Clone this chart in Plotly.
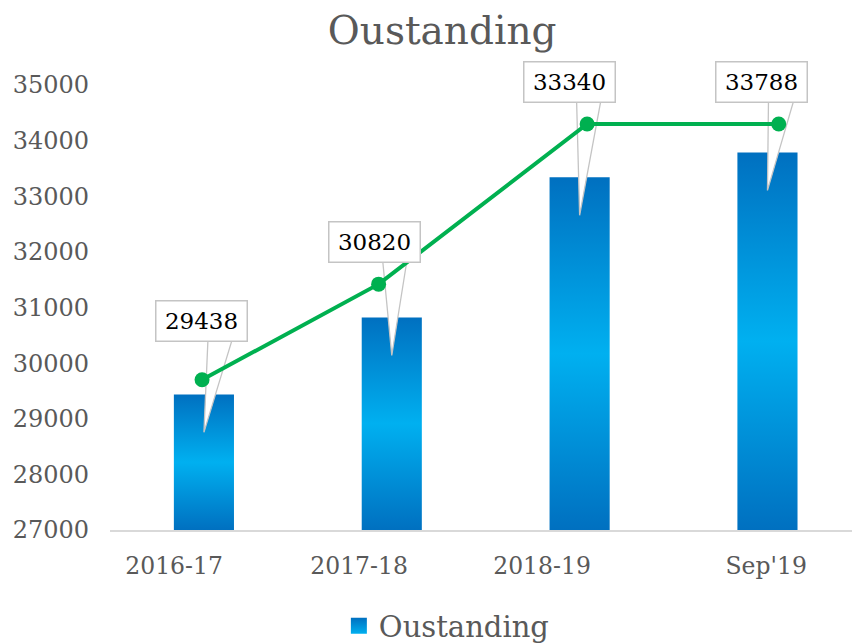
import plotly.graph_objects as go

# data
categories = ["2016-17", "2017-18", "2018-19", "Sep'19"]
outstanding = [29438, 30820, 33340, 33788]
trend_x = [-0.01, 0.93, 2.04, 3.06]
trend_y = [29700, 31420, 34300, 34300]

# axis / layout constants
Y_MIN, Y_MAX = 27000, 35000
X_MIN, X_MAX = -0.5, 3.45
M_L, M_R, M_T, M_B = 110, 0, 85, 114
W, H = 852, 644
PX_Y = (H - M_T - M_B) / (Y_MAX - Y_MIN)  # px per unit
PX_X = (W - M_L - M_R) / (X_MAX - X_MIN)  # px per category

# the category labels sit a little left of the bars in the original
tick_pos = [-0.159, 0.826, 1.80, 2.993]

BAR_HALF = 0.16
DARK, LIGHT = "#0070C0", "#00B0F0"
FONT = "DejaVu Serif"

# callout placement in pixels (relative to bar top / bar centre)
box_dx = [-2.5, -17, -10.5, -6]
box_up = [73.5, 75.5, 95, 70.5]
wedge_l = [4, -9, -3, 1]
wedge_r = [28, 15, 21, 26]
BOX_H = 41
TIP_DOWN = 38

fig = go.Figure()

# bars with vertical gradient
for i, v in enumerate(outstanding):
    fig.add_trace(go.Scatter(
        x=[i - BAR_HALF, i + BAR_HALF, i + BAR_HALF, i - BAR_HALF, i - BAR_HALF],
        y=[Y_MIN, Y_MIN, v, v, Y_MIN],
        mode="lines",
        line={"width": 0},
        fill="toself",
        fillgradient={"type": "vertical",
                      "colorscale": [[0, DARK], [0.5, LIGHT], [1, DARK]]},
        showlegend=False,
        hoverinfo="skip",
    ))

# callout wedges
for i, v in enumerate(outstanding):
    base_y = v + (box_up[i] - BOX_H / 2 + 1) / PX_Y
    tip_y = v - TIP_DOWN / PX_Y
    fig.add_trace(go.Scatter(
        x=[i + wedge_l[i] / PX_X, i + wedge_r[i] / PX_X, i, i + wedge_l[i] / PX_X],
        y=[base_y, base_y, tip_y, base_y],
        mode="lines",
        line={"width": 1.3, "color": "#C4C4C4"},
        fill="toself",
        fillcolor="white",
        showlegend=False,
        hoverinfo="skip",
    ))

# trend line
fig.add_trace(go.Scatter(
    x=trend_x,
    y=trend_y,
    mode="lines+markers",
    line={"color": "#00B050", "width": 4},
    marker={"size": 15, "color": "#00B050"},
    showlegend=False,
))

# legend entry
fig.add_trace(go.Scatter(
    x=[None], y=[None],
    mode="markers",
    name="Oustanding",
    marker={"symbol": "square", "size": 16, "color": DARK,
            "gradient": {"type": "vertical", "color": LIGHT}},
))

for i, v in enumerate(outstanding):
    fig.add_annotation(
        x=i, y=v, xref="x", yref="y",
        xshift=box_dx[i], yshift=box_up[i],
        text=f"{v}",
        showarrow=False,
        font={"family": FONT, "size": 23, "color": "black"},
        bgcolor="white",
        bordercolor="#C4C4C4",
        borderwidth=1.5,
        borderpad=1,
        width=88,
        height=37,
    )

fig.update_layout(
    width=W,
    height=H,
    margin={"l": M_L, "r": M_R, "t": M_T, "b": M_B, "autoexpand": False},
    paper_bgcolor="white",
    plot_bgcolor="white",
    font={"family": FONT, "color": "#595959"},
    title={"text": "Oustanding", "x": 0.519, "xanchor": "center",
           "y": 0.953, "yanchor": "middle",
           "font": {"family": FONT, "size": 39, "color": "#595959"}},
    xaxis={"range": [X_MIN, X_MAX], "tickvals": tick_pos,
           "ticktext": categories, "showgrid": False, "zeroline": False,
           "showline": True, "linecolor": "#D9D9D9", "linewidth": 1.5,
           "tickfont": {"size": 23.5, "color": "#595959"},
           "ticklabelstandoff": 14},
    yaxis={"range": [Y_MIN, Y_MAX], "dtick": 1000, "showgrid": False,
           "zeroline": False, "showline": False, "tickformat": "d",
           "tickfont": {"size": 24, "color": "#595959"},
           "ticklabelstandoff": 20},
    legend={"orientation": "h", "x": 0.454, "xanchor": "center",
            "y": (H - 626) / H, "yref": "container", "yanchor": "middle",
            "font": {"family": FONT, "size": 29, "color": "#595959"},
            "itemwidth": 30},
)

fig.write_html("out.html", config={"displayModeBar": False},
               post_script="document.body.style.margin='0';")
